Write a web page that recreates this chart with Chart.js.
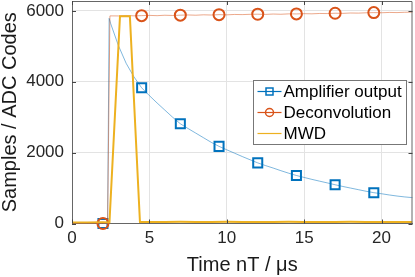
<!DOCTYPE html>
<html>
<head>
<meta charset="utf-8">
<script src="https://cdn.jsdelivr.net/npm/chart.js@4"></script>
<style>
html, body { margin: 0; padding: 0; background: #fff; }
canvas { display: block; }
</style>
</head>
<body>
<canvas id="myChart" width="415" height="277"></canvas>
<script>
'use strict';

// Amplifier output (time in µs, ADC codes)
const ampTime = [0, 0.5, 1, 1.5, 2, 2.3, 2.4, 2.5, 3, 3.5, 4, 4.5, 5, 5.5, 6, 6.5, 7, 7.5, 8, 8.5, 9, 9.5, 10, 10.5, 11, 11.5, 12, 12.5, 13, 13.5, 14, 14.5, 15, 15.5, 16, 16.5, 17, 17.5, 18, 18.5, 19, 19.5, 20, 20.5, 21, 21.5, 22];
const ampValues = [0, 0, 0, 0, 0, 0, 5790, 5640, 5020, 4520, 4140, 3830, 3610, 3400, 3200, 3000, 2815, 2680, 2550, 2420, 2290, 2177, 2080, 1985, 1890, 1800, 1711, 1635, 1565, 1490, 1420, 1355, 1300, 1245, 1195, 1145, 1094, 1045, 1000, 955, 910, 870, 840, 805, 775, 750, 730];

// Deconvolution
const decTime = [0, 0.5, 1, 1.5, 2, 2.3, 2.45, 3, 3.5, 4, 4.5, 5, 5.5, 6, 6.5, 7, 7.5, 8, 8.5, 9, 9.5, 10, 10.5, 11, 11.5, 12, 12.5, 13, 13.5, 14, 14.5, 15, 15.5, 16, 16.5, 17, 17.5, 18, 18.5, 19, 19.5, 20, 20.5, 21, 21.5, 22];
const decValues = [0, 0, 0, 0, 0, 0, 5860, 5858, 5872, 5861, 5867, 5874, 5866, 5878, 5871, 5880, 5886, 5879, 5890, 5884, 5895, 5889, 5900, 5896, 5904, 5907, 5902, 5912, 5906, 5917, 5915, 5922, 5918, 5928, 5925, 5935, 5931, 5941, 5938, 5947, 5952, 5948, 5957, 5953, 5962, 5965];

// MWD trapezoid
const mwdTime = [0, 1, 2, 2.42, 3.1, 3.74, 4.39, 5, 6, 7, 8, 9, 10, 11, 12, 13, 14, 15, 16, 17, 18, 19, 20, 21, 22];
const mwdValues = [30, 28, 32, 30, 5850, 5850, 42, 45, 44, 46, 45, 44, 46, 45, 45, 44, 46, 45, 44, 45, 46, 45, 44, 45, 45];

// sample times that carry a marker
const markerTimes = [2, 4.5, 7, 9.5, 12, 14.5, 17, 19.5];

const xTicks = [0, 5, 10, 15, 20];
const yTicks = [0, 2000, 4000, 6000];

const BLUE = '#0072BD';
const RED = '#D95319';
const YELLOW = '#EDB120';
const FONT = '"Liberation Sans", Arial, Helvetica, sans-serif';

Chart.defaults.font.family = FONT;
Chart.defaults.color = '#262626';

function toXY(t, v) {
    return t.map((x, i) => ({x: x, y: v[i]}));
}

// box, inward ticks and legend like the original figure
const figureExtras = {
    id: 'figureExtras',
    afterDatasetsDraw(chart) {
        const ctx = chart.ctx;
        const a = chart.chartArea;
        const xs = chart.scales.x;
        const ys = chart.scales.y;
        ctx.save();
        ctx.strokeStyle = '#666';
        ctx.lineWidth = 1;
        ctx.beginPath();
        ctx.moveTo(a.left, a.top + 0.5);
        ctx.lineTo(a.right - 0.5, a.top + 0.5);
        ctx.lineTo(a.right - 0.5, a.bottom);
        ctx.stroke();
        ctx.strokeStyle = '#444';
        ctx.beginPath();
        xTicks.forEach(v => {
            const px = Math.round(xs.getPixelForValue(v)) + 0.5;
            ctx.moveTo(px, a.bottom); ctx.lineTo(px, a.bottom - 4);
            ctx.moveTo(px, a.top); ctx.lineTo(px, a.top + 4);
        });
        yTicks.forEach(v => {
            const py = Math.round(ys.getPixelForValue(v)) + 0.5;
            ctx.moveTo(a.left, py); ctx.lineTo(a.left + 4, py);
            ctx.moveTo(a.right, py); ctx.lineTo(a.right - 4, py);
        });
        ctx.stroke();

        // legend
        const lw = 153, lh = 64;
        const lx = Math.round(a.right - 7 - lw) + 0.5;
        const ly = Math.round(a.top + 79) + 0.5;
        ctx.fillStyle = '#fff';
        ctx.fillRect(lx, ly, lw, lh);
        ctx.strokeStyle = '#777';
        ctx.strokeRect(lx, ly, lw, lh);
        const rows = [
            {label: 'Amplifier output', color: BLUE, mark: 'rect'},
            {label: 'Deconvolution', color: RED, mark: 'circle'},
            {label: 'MWD', color: YELLOW, mark: null}
        ];
        ctx.font = '17px ' + FONT;
        ctx.textBaseline = 'middle';
        rows.forEach((r, i) => {
            const cy = ly + 11 + i * 21;
            ctx.strokeStyle = r.color;
            ctx.lineWidth = 1.2;
            ctx.beginPath();
            ctx.moveTo(lx + 4, cy); ctx.lineTo(lx + 28, cy);
            ctx.stroke();
            ctx.lineWidth = 1.5;
            if (r.mark === 'rect') {
                ctx.strokeRect(lx + 12.5, cy - 3.5, 7, 7);
            } else if (r.mark === 'circle') {
                ctx.beginPath();
                ctx.arc(lx + 16, cy, 4, 0, Math.PI * 2);
                ctx.stroke();
            }
            ctx.fillStyle = '#000';
            ctx.fillText(r.label, lx + 30, cy + 1);
        });
        ctx.restore();
    }
};

const ctx = document.getElementById('myChart');

new Chart(ctx, {
    type: 'line',
    data: {
        datasets: [{
            label: 'Amplifier output',
            data: toXY(ampTime, ampValues),
            borderColor: 'rgba(0,114,189,0.5)',
            borderWidth: 1,
            pointStyle: 'rect',
            pointRadius: c => markerTimes.includes(c.raw.x) ? 6.4 : 0,
            pointBorderColor: BLUE,
            pointBackgroundColor: 'rgba(0,0,0,0)',
            pointBorderWidth: 2,
            clip: 10,
            order: 2
        }, {
            label: 'Deconvolution',
            data: toXY(decTime, decValues),
            borderColor: 'rgba(217,83,25,0.5)',
            borderWidth: 1,
            pointStyle: 'circle',
            pointRadius: c => markerTimes.includes(c.raw.x) ? 5.5 : 0,
            pointBorderColor: RED,
            pointBackgroundColor: 'rgba(0,0,0,0)',
            pointBorderWidth: 2,
            clip: 10,
            order: 1
        }, {
            label: 'MWD',
            data: toXY(mwdTime, mwdValues),
            borderColor: YELLOW,
            borderWidth: 2,
            pointRadius: 0,
            order: 0
        }]
    },
    options: {
        responsive: false,
        animation: false,
        layout: {padding: {top: 1, right: 2.5, left: 0, bottom: 0}},
        elements: {line: {tension: 0}},
        plugins: {
            legend: {display: false},
            tooltip: {enabled: false}
        },
        scales: {
            x: {
                type: 'linear',
                min: 0,
                max: 22,
                afterBuildTicks: s => { s.ticks = xTicks.map(v => ({value: v})); },
                afterFit: s => { s.height = 53.5; s.paddingLeft = 0; s.paddingRight = 0; },
                grid: {color: '#e3e3e3', drawTicks: false},
                border: {color: '#666'},
                ticks: {font: {size: 17}, padding: 5, maxRotation: 0, callback: v => String(v)},
                title: {
                    display: true,
                    text: 'Time nT / μs',
                    font: {size: 20},
                    color: '#1a1a1a',
                    padding: {top: 0, bottom: 0}
                }
            },
            y: {
                min: 0,
                max: 6280,
                afterBuildTicks: s => { s.ticks = yTicks.map(v => ({value: v})); },
                afterFit: s => { s.width = 72; s.paddingTop = 0; s.paddingBottom = 0; },
                grid: {color: '#e3e3e3', drawTicks: false},
                border: {color: '#666'},
                ticks: {font: {size: 17}, padding: 8, callback: v => String(v)},
                title: {
                    display: true,
                    text: 'Samples / ADC Codes',
                    font: {size: 20, lineHeight: 1},
                    color: '#1a1a1a',
                    padding: 0
                }
            }
        }
    },
    plugins: [figureExtras]
});
</script>
</body>
</html>
